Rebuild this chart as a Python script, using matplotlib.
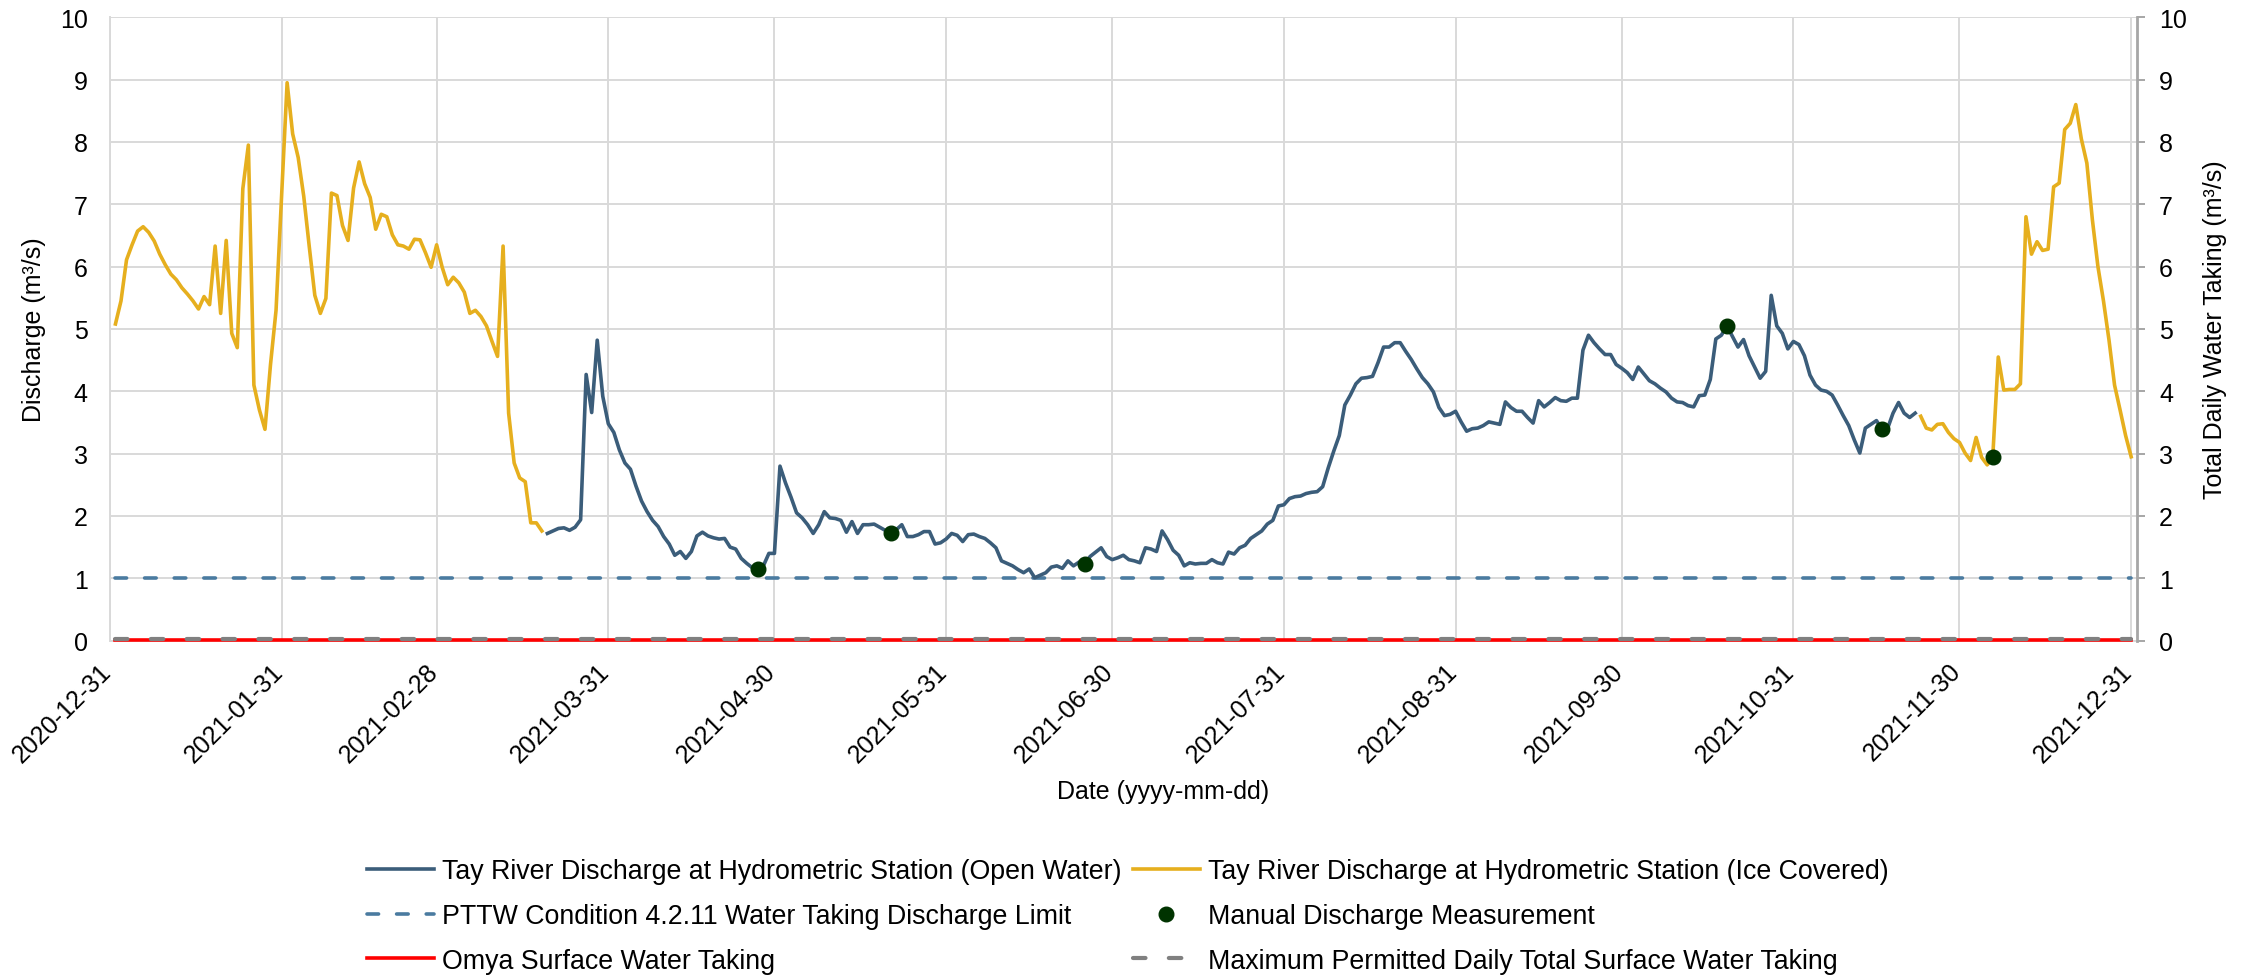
import matplotlib
matplotlib.use("Agg")
import matplotlib.pyplot as plt
import matplotlib.dates as mdates
from matplotlib.transforms import ScaledTranslation
import pandas as pd

plt.rcParams['font.family'] = ['Liberation Sans', 'DejaVu Sans']
plt.rcParams['font.size'] = 18

# ---- data (m3/s), daily values ----
ice1_start = "2021-01-01"
ice1_vals = [5.08, 5.45, 6.11, 6.35, 6.57, 6.64, 6.55, 6.41, 6.20, 6.03,
             5.88, 5.79, 5.66, 5.56, 5.45, 5.32, 5.52, 5.39, 6.33, 5.25,
             6.42, 4.93, 4.70, 7.25, 7.95, 4.10, 3.70, 3.39, 4.43, 5.30,
             7.13, 8.95, 8.13, 7.75, 7.13, 6.32, 5.54, 5.25, 5.49, 7.18,
             7.14, 6.66, 6.42, 7.26, 7.68, 7.33, 7.11, 6.60, 6.84, 6.80,
             6.51, 6.35, 6.33, 6.28, 6.44, 6.43, 6.22, 5.99, 6.35, 5.99,
             5.71, 5.83, 5.74, 5.59, 5.25, 5.30, 5.20, 5.05, 4.80, 4.56,
             6.33, 3.65, 2.85, 2.61, 2.55, 1.89, 1.89, 1.76]

open_start = "2021-03-20"
open_vals = [1.72, 1.76, 1.80, 1.81, 1.77, 1.82, 1.94, 4.27, 3.66, 4.82,
             3.92, 3.48, 3.34, 3.06, 2.85, 2.75, 2.48, 2.24, 2.07, 1.93,
             1.83, 1.67, 1.55, 1.37, 1.43, 1.32, 1.43, 1.68, 1.74, 1.68,
             1.65, 1.63, 1.64, 1.50, 1.47, 1.32, 1.24, 1.17, 1.13, 1.20,
             1.40, 1.40, 2.80, 2.53, 2.30, 2.05, 1.97, 1.86, 1.72, 1.86,
             2.07, 1.97, 1.96, 1.93, 1.74, 1.91, 1.72, 1.86, 1.86, 1.87,
             1.82, 1.77, 1.74, 1.78, 1.86, 1.67, 1.67, 1.70, 1.75, 1.75,
             1.55, 1.57, 1.63, 1.72, 1.69, 1.59, 1.70, 1.71, 1.67, 1.64,
             1.57, 1.49, 1.28, 1.24, 1.20, 1.14, 1.09, 1.15, 1.01, 1.05,
             1.09, 1.18, 1.20, 1.16, 1.28, 1.20, 1.26, 1.22, 1.35, 1.42,
             1.49, 1.35, 1.30, 1.33, 1.37, 1.30, 1.28, 1.25, 1.49, 1.47,
             1.43, 1.76, 1.62, 1.45, 1.37, 1.20, 1.25, 1.23, 1.24, 1.24,
             1.30, 1.25, 1.23, 1.42, 1.39, 1.49, 1.53, 1.64, 1.70, 1.76,
             1.87, 1.93, 2.16, 2.18, 2.28, 2.31, 2.32, 2.36, 2.38, 2.39,
             2.47, 2.77, 3.04, 3.29, 3.78, 3.94, 4.12, 4.21, 4.22, 4.24,
             4.46, 4.71, 4.71, 4.78, 4.78, 4.64, 4.51, 4.36, 4.22, 4.12,
             3.99, 3.74, 3.61, 3.63, 3.68, 3.51, 3.36, 3.40, 3.41, 3.45,
             3.51, 3.49, 3.47, 3.83, 3.74, 3.68, 3.68, 3.58, 3.49, 3.85,
             3.75, 3.82, 3.90, 3.85, 3.84, 3.89, 3.89, 4.66, 4.90, 4.78,
             4.68, 4.59, 4.59, 4.43, 4.37, 4.30, 4.19, 4.39, 4.28, 4.17,
             4.12, 4.05, 3.99, 3.89, 3.83, 3.82, 3.77, 3.75, 3.93, 3.94,
             4.19, 4.84, 4.90, 5.05, 4.88, 4.71, 4.83, 4.57, 4.39, 4.21,
             4.32, 5.54, 5.05, 4.93, 4.68, 4.80, 4.75, 4.57, 4.26, 4.10,
             4.02, 4.00, 3.94, 3.78, 3.61, 3.45, 3.22, 3.01, 3.41, 3.47,
             3.53, 3.40, 3.40, 3.65, 3.82, 3.65, 3.58, 3.65]

ice2_start = "2021-11-23"
ice2_vals = [3.60, 3.41, 3.38, 3.47, 3.48, 3.34, 3.24, 3.18, 3.01, 2.89,
             3.26, 2.94, 2.82, 2.94, 4.55, 4.02, 4.03, 4.03, 4.12, 6.80,
             6.20, 6.40, 6.26, 6.28, 7.28, 7.34, 8.20, 8.30, 8.60, 8.05,
             7.66, 6.75, 6.00, 5.45, 4.82, 4.10, 3.70, 3.29, 2.95]

manual_dates = ["2021-04-27", "2021-05-21", "2021-06-25",
                "2021-10-19", "2021-11-16", "2021-12-06"]
manual_vals = [1.15, 1.72, 1.23, 5.05, 3.40, 2.95]

limit_value = 1.0          # PTTW condition 4.2.11
omya_taking = 0.005        # Omya surface water taking
max_permitted = 0.025      # max permitted daily total surface water taking
year_start, year_end = "2021-01-01", "2021-12-31"

labels = ["Tay River Discharge at Hydrometric Station (Open Water)",
          "PTTW Condition 4.2.11 Water Taking Discharge Limit",
          "Omya Surface Water Taking",
          "Tay River Discharge at Hydrometric Station (Ice Covered)",
          "Manual Discharge Measurement",
          "Maximum Permitted Daily Total Surface Water Taking"]

# ---- figure ----
fig = plt.figure(figsize=(22.57, 9.78), dpi=100)
ax = fig.add_axes([0.0487, 0.3439, 0.8980, 0.6374])

c_open = '#3B5D7A'
c_ice = '#E6AF1E'
c_lim = '#4A7BA0'
c_dot = '#003300'
c_grid = '#D9D9D9'

ice1 = pd.Series(ice1_vals, index=pd.date_range(ice1_start, periods=len(ice1_vals)))
ice2 = pd.Series(ice2_vals, index=pd.date_range(ice2_start, periods=len(ice2_vals)))
opw = pd.Series(open_vals, index=pd.date_range(open_start, periods=len(open_vals)))
span = pd.to_datetime([year_start, year_end])

lw = 2.6
l_omya, = ax.plot(span, [omya_taking] * 2, color='#FF0000', lw=lw, clip_on=False, zorder=3)
l_max, = ax.plot(span, [max_permitted] * 2, color='#808080', lw=3.0,
                 ls=(0, (3.0, 5.6)), dash_capstyle='round', clip_on=False, zorder=4)
l_lim, = ax.plot(span, [limit_value] * 2, color=c_lim, lw=lw,
                 ls=(0, (3.2, 5.0)), dash_capstyle='round', zorder=3)
l_open, = ax.plot(opw.index, opw.values, color=c_open, lw=lw, zorder=5)
l_ice, = ax.plot(ice1.index, ice1.values, color=c_ice, lw=lw, zorder=5)
ax.plot(ice2.index, ice2.values, color=c_ice, lw=lw, zorder=5)
l_man, = ax.plot(pd.to_datetime(manual_dates), manual_vals, 'o', color=c_dot,
                 ms=10.5, ls='none', zorder=6)

ax.set_xlim(pd.Timestamp("2020-12-31"), pd.Timestamp("2022-01-01"))
ax.set_ylim(0, 10)
ax.set_yticks(range(0, 11))
ticks = pd.to_datetime(["2020-12-31", "2021-01-31", "2021-02-28", "2021-03-31",
                        "2021-04-30", "2021-05-31", "2021-06-30", "2021-07-31",
                        "2021-08-31", "2021-09-30", "2021-10-31", "2021-11-30",
                        "2021-12-31"])
ax.set_xticks(ticks)
ax.xaxis.set_major_formatter(mdates.DateFormatter('%Y-%m-%d'))
ax.tick_params(axis='x', length=0, pad=13)
ax.tick_params(axis='y', length=0, pad=16)
off = ScaledTranslation(0.06, 0, fig.dpi_scale_trans)
for lab in ax.get_xticklabels():
    lab.set_rotation(45)
    lab.set_ha('right')
    lab.set_transform(lab.get_transform() + off)

ax.grid(True, color=c_grid, lw=1.4)
ax.set_axisbelow(True)
for s in ['top', 'right']:
    ax.spines[s].set_visible(False)
for s in ['left', 'bottom']:
    ax.spines[s].set_color(c_grid)
    ax.spines[s].set_linewidth(1.4)

ax2 = ax.twinx()
ax2.set_ylim(0, 10)
ax2.set_yticks(range(0, 11))
for s in ['top', 'left', 'bottom']:
    ax2.spines[s].set_visible(False)
ax2.spines['right'].set_color('#A6A6A6')
ax2.spines['right'].set_linewidth(2)
ax2.tick_params(axis='y', length=6, width=1.4, color='#A6A6A6', pad=10)

ax.set_ylabel("Discharge (m³/s)", va='center')
ax.yaxis.set_label_coords(-0.0376, 0.5)
ax2.set_ylabel("Total Daily Water Taking (m³/s)", va='center')
ax2.yaxis.set_label_coords(1.0387, 0.5)

fig.text(1163 / 2257, 1 - 791.6 / 978, "Date (yyyy-mm-dd)", ha='center', va='center')

handles = [l_open, l_lim, l_omya, l_ice, l_man, l_max]
fig.legend(handles, labels, loc='center', bbox_to_anchor=(0.4996, 0.0624), ncol=2,
           frameon=False, handlelength=2.5, handletextpad=0.3, columnspacing=0.41,
           labelspacing=0.7, fontsize=19.3)

fig.savefig("out.png", dpi=100)
